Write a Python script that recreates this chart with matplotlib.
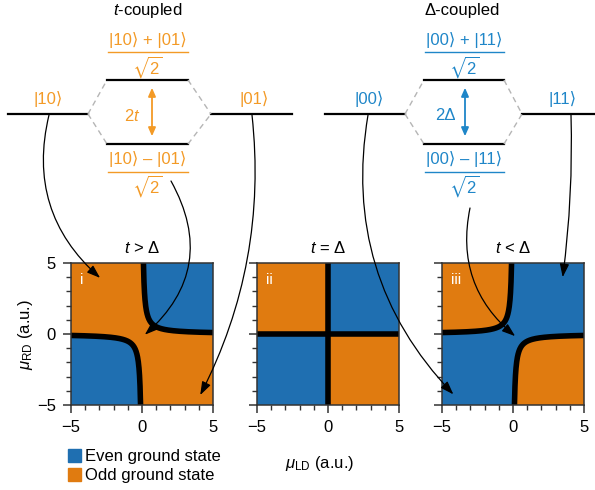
import numpy as np
import matplotlib
matplotlib.use("Agg")
import matplotlib.pyplot as plt
from matplotlib.colors import ListedColormap
from matplotlib.lines import Line2D
from matplotlib.patches import ConnectionPatch, FancyArrowPatch, Rectangle

# ---- data -----------------------------------------------------------
panel_labels = ["i", "ii", "iii"]
panel_titles = [r"$t$ > Δ", r"$t$ = Δ", r"$t$ < Δ"]
hopping_t = [1.0, 1.0, 0.7]          # inter-dot hopping t (a.u.)
pairing_delta = [0.7, 1.0, 1.0]      # crossed Andreev pairing Δ (a.u.)
mu_range = [-5, 5]
mu_ticks = [-5, 0, 5]
legend_labels = ["Even ground state", "Odd ground state"]

t_states = [r"|10⟩", r"|01⟩"]
t_plus = r"|10⟩ + |01⟩"
t_minus = r"|10⟩ – |01⟩"
d_states = [r"|00⟩", r"|11⟩"]
d_plus = r"|00⟩ + |11⟩"
d_minus = r"|00⟩ – |11⟩"

EVEN_C = "#1f6fb1"
ODD_C = "#e07b10"
T_TXT = "#f39a26"
D_TXT = "#1f86c8"

plt.rcParams["font.family"] = ["Liberation Sans", "DejaVu Sans"]
plt.rcParams["mathtext.fontset"] = "custom"
plt.rcParams["mathtext.rm"] = "Liberation Sans"
plt.rcParams["mathtext.it"] = "Liberation Sans:italic"
plt.rcParams["mathtext.bf"] = "Liberation Sans:bold"
plt.rcParams["mathtext.sf"] = "Liberation Sans"
plt.rcParams["mathtext.fallback"] = "stixsans"

W, H = 595, 490
fig = plt.figure(figsize=(W / 100, H / 100), dpi=100)


def fx(x):
    return x / W


def fy(y):
    return 1 - y / H


def hline(x0, x1, y, **kw):
    fig.add_artist(Line2D([fx(x0), fx(x1)], [fy(y), fy(y)], **kw))


def seg(p, q, **kw):
    fig.add_artist(Line2D([fx(p[0]), fx(q[0])], [fy(p[1]), fy(q[1])], **kw))


def ftext(x, y, s, **kw):
    kw.setdefault("ha", "center")
    kw.setdefault("va", "center")
    fig.text(fx(x), fy(y), s, **kw)


# ---- energy-level diagrams ------------------------------------------
def level_diagram(title, title_x, bare_left, centre, bare_right, label_x,
                  states, plus, minus, gap, arrow_x, color):
    lw = 1.6
    ftext(title_x, 10, title, fontsize=12)
    cl, cr = centre
    # bare levels
    hline(*bare_left, 114, color="k", lw=lw)
    hline(*bare_right, 114, color="k", lw=lw)
    # coupled levels
    hline(cl, cr, 80, color="k", lw=lw)
    hline(cl, cr, 144, color="k", lw=lw)
    dash = dict(color="#b5b5b5", lw=1.0, ls=(0, (4, 3)))
    seg((bare_left[1], 114), (cl, 80), **dash)
    seg((bare_left[1], 114), (cl, 144), **dash)
    seg((cr, 80), (bare_right[0], 114), **dash)
    seg((cr, 144), (bare_right[0], 114), **dash)
    # state labels
    ftext(label_x[0], 99, states[0], color=color, fontsize=12)
    ftext(label_x[1], 99, states[1], color=color, fontsize=12)
    cx = (cl + cr) / 2
    ftext(cx, 40, plus, color=color, fontsize=12)
    hline(cl + 1, cr, 52, color=color, lw=1.0)
    ftext(cx, 67, r"$\sqrt{2}$", color=color, fontsize=12)
    ftext(cx, 159, minus, color=color, fontsize=12)
    hline(cl + 1, cr, 172, color=color, lw=1.0)
    ftext(cx, 186, r"$\sqrt{2}$", color=color, fontsize=12)
    # splitting arrow
    fig.add_artist(FancyArrowPatch((fx(arrow_x), fy(85)), (fx(arrow_x), fy(139)),
                                   transform=fig.transFigure,
                                   arrowstyle="<|-|>,head_length=0.5,head_width=0.22",
                                   mutation_scale=10, color=color, lw=1.3))
    ftext(arrow_x - 20, 116, gap, color=color, fontsize=12)


level_diagram(r"$t$-coupled", 148, (8, 88), (107, 188), (211, 292), (48, 254),
              t_states, t_plus, t_minus, r"2$t$", 152, T_TXT)
level_diagram("Δ-coupled", 462, (325, 405), (424, 504), (522, 595), (369, 563),
              d_states, d_plus, d_minus, "2Δ", 465, D_TXT)

# ---- phase diagrams -------------------------------------------------
lefts = [71, 257, 442]
mu = np.linspace(mu_range[0], mu_range[1], 1201)
ML, MR = np.meshgrid(mu, mu)
cmap = ListedColormap([ODD_C, EVEN_C])
axes = []
for k, left in enumerate(lefts):
    ax = fig.add_axes([fx(left), fy(405), 142 / W, 142 / H])
    axes.append(ax)
    c = hopping_t[k] ** 2 - pairing_delta[k] ** 2
    # even parity is lower in energy where muL*muR > t^2 - Delta^2
    even = (ML * MR > c).astype(float)
    ax.imshow(even, origin="lower", extent=[*mu_range, *mu_range],
              cmap=cmap, vmin=0, vmax=1, interpolation="nearest", aspect="auto")
    bw = 4.0
    if abs(c) < 1e-12:
        ax.plot(mu_range, [0, 0], color="k", lw=bw, solid_capstyle="butt")
        ax.plot([0, 0], mu_range, color="k", lw=bw, solid_capstyle="butt")
    else:
        # parity boundary: hyperbola muR = c / muL
        xs = np.linspace(abs(c) / mu_range[1], mu_range[1], 400)
        ax.plot(xs, c / xs, color="k", lw=bw)
        ax.plot(-xs, -c / xs, color="k", lw=bw)
    ax.set_xlim(mu_range)
    ax.set_ylim(mu_range)
    ax.set_xticks(mu_ticks)
    ax.set_yticks(mu_ticks)
    ax.set_xticks(np.arange(mu_range[0], mu_range[1] + 1), minor=True)
    ax.set_yticks(np.arange(mu_range[0], mu_range[1] + 1), minor=True)
    ax.tick_params(which="major", length=6, width=1.1, labelsize=12, pad=5,
                   color="#333333")
    ax.tick_params(which="minor", length=3.5, width=1.0, color="#333333")
    if k > 0:
        ax.set_yticklabels([])
    for sp in ax.spines.values():
        sp.set_linewidth(1.1)
        sp.set_color("#333333")
    ax.set_title(panel_titles[k], fontsize=12, pad=7)
    ax.text(0.06, 0.93, panel_labels[k], transform=ax.transAxes, color="white",
            fontsize=11, ha="left", va="top")

axes[0].set_ylabel(r"$\mu_{\mathrm{RD}}$ (a.u.)", fontsize=12, labelpad=1)
ftext(320, 463, r"$\mu_{\mathrm{LD}}$ (a.u.)", fontsize=12)

# ---- legend ---------------------------------------------------------
for j, (lab, col) in enumerate(zip(legend_labels, [EVEN_C, ODD_C])):
    y0 = 449 + j * 19
    fig.add_artist(Rectangle((fx(68), fy(y0 + 13)), 13 / W, 13 / H,
                             transform=fig.transFigure, color=col))
    ftext(85, y0 + 7, lab, fontsize=12, ha="left")

# ---- curved arrows from the states to the phase diagrams ------------
arrow_kw = dict(arrowstyle="-|>,head_length=0.8,head_width=0.28",
                mutation_scale=10, color="k", lw=0.9, zorder=20)
links = [
    ((49, 115), 0, (-2.95, 3.95), 0.3),
    ((171, 181), 0, (0.2, -0.05), -0.4),
    ((252, 115), 0, (4.1, -4.3), -0.15),
    ((368, 115), 2, (-4.2, -4.25), 0.25),
    ((470, 208), 2, (0.15, -0.15), 0.3),
    ((571, 115), 2, (3.5, 4.0), -0.04),
]
for start, k, end, rad in links:
    cp = ConnectionPatch(xyA=(fx(start[0]), fy(start[1])), coordsA=fig.transFigure,
                         xyB=end, coordsB=axes[k].transData,
                         connectionstyle=f"arc3,rad={rad}", **arrow_kw)
    fig.add_artist(cp)

fig.savefig("out.png", dpi=100)
